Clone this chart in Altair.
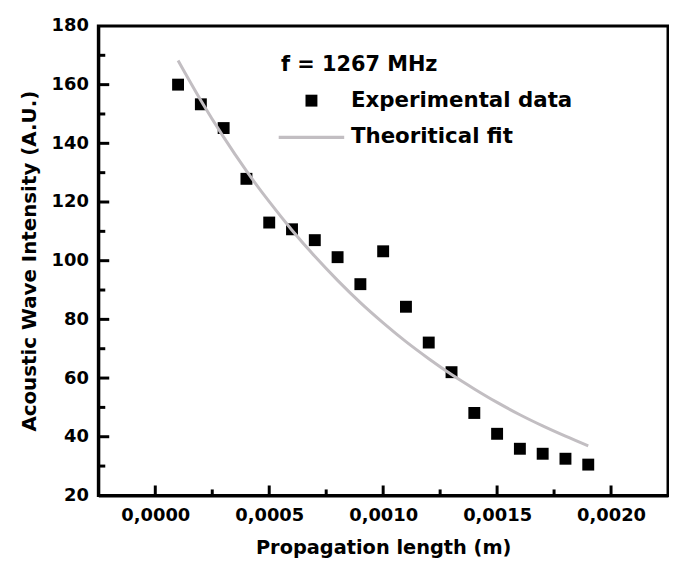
import altair as alt
import pandas as pd

# Experimental data (propagation length in m, intensity in A.U.)
x_exp = [0.0001, 0.0002, 0.0003, 0.0004, 0.0005, 0.0006, 0.0007, 0.0008, 0.0009, 0.0010,
         0.0011, 0.0012, 0.0013, 0.0014, 0.0015, 0.0016, 0.0017, 0.0018, 0.0019]
y_exp = [160.0, 153.3, 145.2, 127.9, 113.0, 110.7, 107.0, 101.2, 92.0, 103.2,
         84.3, 72.1, 62.0, 48.1, 41.0, 35.9, 34.2, 32.5, 30.5]

# Theoretical fit curve
x_fit = [0.0001, 0.0002, 0.0003, 0.0004, 0.0005, 0.0006, 0.0007, 0.0008, 0.0009, 0.0010,
         0.0011, 0.0012, 0.0013, 0.0014, 0.0015, 0.0016, 0.0017, 0.0018, 0.0019]
y_fit = [168.2, 154.6, 142.1, 130.6, 120.1, 110.4, 101.5, 93.3, 85.7, 78.8,
         72.4, 66.6, 61.2, 56.3, 51.7, 47.5, 43.7, 40.2, 36.9]

series = ["Experimental data", "Theoritical fit"]

x_major = [0.0, 0.0005, 0.0010, 0.0015, 0.0020]
x_minor = [0.00025, 0.00075, 0.00125, 0.00175]
y_major = [20, 40, 60, 80, 100, 120, 140, 160, 180]
y_minor = [30, 50, 70, 90, 110, 130, 150, 170]

W, H = 574, 473
FONT = "DejaVu Sans"
FIT_COLOR = "#c2bec2"

exp_df = pd.DataFrame({"x": x_exp, "y": y_exp, "series": series[0]})
fit_df = pd.DataFrame({"x": x_fit, "y": y_fit})

xs = alt.Scale(domain=[-0.00025, 0.00225], nice=False, zero=False)
ys = alt.Scale(domain=[20, 180], nice=False, zero=False)

xaxis = alt.Axis(values=x_major, labelExpr="replace(format(datum.value, '.4f'), '.', ',')",
                 title="Propagation length (m)", grid=False, ticks=False, tickSize=0,
                 labelPadding=11, titlePadding=15)
yaxis = alt.Axis(values=y_major, title="Acoustic Wave Intensity (A.U.)", grid=False,
                 ticks=False, tickSize=0, labelPadding=10, titlePadding=12, titleFontSize=20)

xenc = alt.X("x:Q", scale=xs, axis=xaxis)
yenc = alt.Y("y:Q", scale=ys, axis=yaxis)

square_path = "M-1,-1H1V1H-1Z"
line_path = "M-5.5,-0.28H5.5V0.28H-5.5Z"

points = alt.Chart(exp_df).mark_point(filled=True, size=144, opacity=1).encode(
    x=xenc, y=yenc,
    color=alt.Color("series:N", scale=alt.Scale(domain=series, range=["black", FIT_COLOR]),
                    legend=alt.Legend(title="f = 1267 MHz", orient="none", legendX=184, legendY=28,
                                      symbolSize=144, symbolStrokeWidth=0, symbolOffset=20,
                                      labelOffset=29, rowPadding=14, titlePadding=15.5, padding=0)),
    shape=alt.Shape("series:N", scale=alt.Scale(domain=series, range=[square_path, line_path])),
)

fit = alt.Chart(fit_df).mark_line(color=FIT_COLOR, strokeWidth=3, interpolate="monotone").encode(
    x=xenc, y=yenc)

def xticks(vals, length):
    return alt.Chart(pd.DataFrame({"x": vals})).mark_rule(color="black", strokeWidth=3).encode(
        x=xenc, y=alt.value(H), y2=alt.value(H - length))

def yticks(vals, length):
    return alt.Chart(pd.DataFrame({"y": vals})).mark_rule(color="black", strokeWidth=3).encode(
        y=yenc, x=alt.value(0), x2=alt.value(length))

chart = alt.layer(
    points, fit,
    xticks(x_major, 10), xticks(x_minor, 6),
    yticks(y_major[1:-1], 11), yticks(y_minor, 7),
).properties(
    width=W, height=H, background="white",
    padding={"left": 11, "top": 7, "right": 1, "bottom": 3},
).configure_view(
    stroke="black", strokeWidth=3
).configure_axis(
    domainColor="black", domainWidth=3,
    labelFont=FONT, labelFontSize=18, labelFontWeight="bold", labelColor="black",
    titleFont=FONT, titleFontSize=19.5, titleFontWeight="bold", titleColor="black",
).configure_legend(
    titleFont=FONT, titleFontSize=21, titleFontWeight="bold", titleColor="black",
    labelFont=FONT, labelFontSize=21.5, labelFontWeight="bold", labelColor="black",
    labelLimit=400,
)

chart.save("out.html", embed_options={"renderer": "svg", "actions": False})
